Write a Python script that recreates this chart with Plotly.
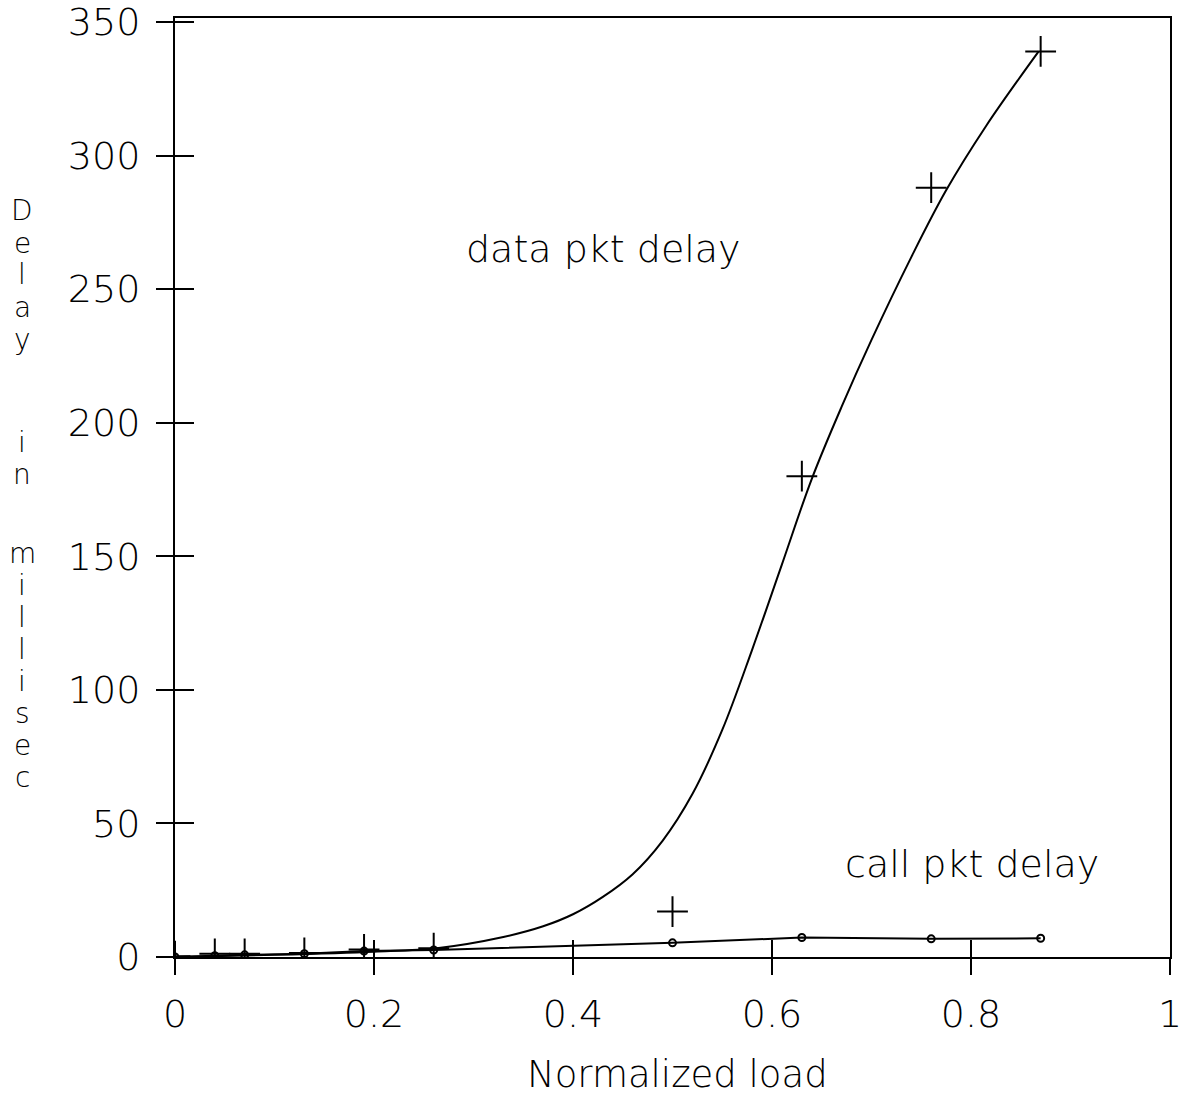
import plotly.graph_objects as go

# Measured loads and delays (ms)
load_pts = [0.0, 0.04, 0.07, 0.13, 0.19, 0.26, 0.50, 0.63, 0.76, 0.87]
data_delay = [0.3, 1.2, 1.2, 1.5, 2.8, 3.3, 17.0, 180.0, 288.0, 339.0]
call_delay = [0.0, 0.5, 0.8, 1.2, 2.2, 2.6, 5.3, 7.3, 6.8, 7.0]

# Smoothed trend of the data packet delay
curve_load = [0.0, 0.10, 0.20, 0.265, 0.33, 0.37, 0.40, 0.43, 0.46, 0.49, 0.52,
              0.55, 0.58, 0.61, 0.64, 0.67, 0.70, 0.74, 0.775, 0.815, 0.868]
curve_delay = [0.0, 0.8, 2.0, 3.4, 7.5, 11.5, 16.0, 22.5, 31.0, 43.5, 61.0,
               85.0, 115.0, 147.0, 179.0, 206.0, 231.0, 262.0, 287.0, 311.0, 339.0]

x_ticks = [0, 0.2, 0.4, 0.6, 0.8, 1.0]
x_tick_text = ["0", "0.2", "0.4", "0.6", "0.8", "1"]
y_ticks = [0, 50, 100, 150, 200, 250, 300, 350]

y_title_letters = ["D", "e", "l", "a", "y", "i", "n",
                   "m", "i", "l", "l", "i", "s", "e", "c"]

FONT = "DejaVu Sans"
W, H = 1183, 1100
M_L, M_R, M_T, M_B = 175, 13, 18, 143
Y_MAX = 351.5

fig = go.Figure()

fig.add_trace(go.Scatter(
    x=curve_load, y=curve_delay, mode="lines",
    line=dict(color="black", width=2, shape="spline", smoothing=1.0),
    hoverinfo="skip", showlegend=False))

fig.add_trace(go.Scatter(
    x=load_pts, y=call_delay, mode="lines+markers",
    line=dict(color="black", width=2),
    marker=dict(symbol="circle-open", size=7, color="black",
                line=dict(width=2, color="black")),
    showlegend=False))

fig.add_trace(go.Scatter(
    x=load_pts, y=data_delay, mode="markers",
    marker=dict(symbol="cross-thin-open", size=22, color="black",
                line=dict(width=2, color="black")),
    showlegend=False))

# empty trace so the inner-tick overlay axes get drawn
fig.add_trace(go.Scatter(x=[None], y=[None], xaxis="x2", yaxis="y2",
                         showlegend=False, hoverinfo="skip"))

tick_font = dict(family=FONT, size=38, color="black", weight=300)

fig.update_layout(
    width=W, height=H,
    margin=dict(l=M_L, r=M_R, t=M_T, b=M_B),
    paper_bgcolor="white", plot_bgcolor="white",
    xaxis=dict(range=[0, 1], tickvals=x_ticks, ticktext=x_tick_text,
               ticks="outside", ticklen=16, tickwidth=2, tickcolor="black",
               showline=True, linecolor="black", linewidth=2, mirror=True,
               showgrid=False, zeroline=False, tickfont=tick_font,
               ticklabelstandoff=6, ticklabeloverflow="allow",
               automargin=False),
    yaxis=dict(range=[0, Y_MAX], tickvals=y_ticks,
               ticks="outside", ticklen=17, tickwidth=2, tickcolor="black",
               showline=True, linecolor="black", linewidth=2, mirror=True,
               showgrid=False, zeroline=False, tickfont=tick_font,
               ticklabelstandoff=8, ticklabeloverflow="allow",
               automargin=False),
    xaxis2=dict(overlaying="x", matches="x", range=[0, 1], tickvals=x_ticks,
                ticks="inside", ticklen=17, tickwidth=2, tickcolor="black",
                showticklabels=False, showline=False, showgrid=False,
                zeroline=False, automargin=False),
    yaxis2=dict(overlaying="y", matches="y", range=[0, Y_MAX], tickvals=y_ticks,
                ticks="inside", ticklen=19, tickwidth=2, tickcolor="black",
                showticklabels=False, showline=False, showgrid=False,
                zeroline=False, automargin=False),
)

label_font = dict(family=FONT, size=38, color="black", weight=300)
axis_title_font = dict(family=FONT, size=37, color="black", weight=300)
title_letter_font = dict(family=FONT, size=28, color="black", weight=300)


def px_to_paper(px, py):
    return ((px - M_L) / (W - M_L - M_R), (H - M_B - py) / (H - M_T - M_B))


annotations = []

# in-plot series labels
annotations.append(dict(x=0.431, y=265, xref="x", yref="y", text="data pkt delay",
                        showarrow=False, font=label_font,
                        xanchor="center", yanchor="middle"))
annotations.append(dict(x=0.801, y=35, xref="x", yref="y", text="call pkt delay",
                        showarrow=False, font=label_font,
                        xanchor="center", yanchor="middle"))

# x axis title
tx, ty = px_to_paper(677, 1074)
annotations.append(dict(x=tx, y=ty, xref="paper", yref="paper",
                        text="Normalized load", showarrow=False,
                        font=axis_title_font,
                        xanchor="center", yanchor="middle"))

# y axis title, one letter per row
letter_rows = [210, 243, 275, 307, 339, 442, 474,
               553, 585, 617, 649, 681, 713, 745, 777]
for ch, py in zip(y_title_letters, letter_rows):
    lx, ly = px_to_paper(22, py)
    annotations.append(dict(x=lx, y=ly, xref="paper", yref="paper", text=ch,
                            showarrow=False, font=title_letter_font,
                            xanchor="center", yanchor="middle"))

fig.update_layout(annotations=annotations)

fig.write_html("out.html")
